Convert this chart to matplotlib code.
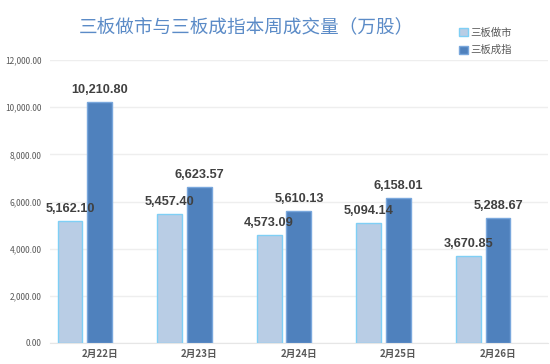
import numpy as np
import matplotlib.pyplot as plt
from matplotlib.ticker import FuncFormatter

plt.rcParams['font.family'] = ['Noto Sans CJK SC', 'DejaVu Sans']

dates = ['2月22日', '2月23日', '2月24日', '2月25日', '2月26日']
market_making = [5162.10, 5457.40, 4573.09, 5094.14, 3670.85]
index_stocks = [10210.80, 6623.57, 5610.13, 6158.01, 5288.67]

fig = plt.figure(figsize=(5.5, 3.64), dpi=100)
ax = fig.add_axes([0.091, 0.0577, 0.905, 0.777])

x = np.arange(len(dates))
w = 0.25
b1 = ax.bar(x - 0.3, market_making, w, color='#B9CDE5', edgecolor='#7FCFF5',
            linewidth=1, label='三板做市', zorder=3)
b2 = ax.bar(x, index_stocks, w, color='#4F81BD', edgecolor='#79A7DC',
            linewidth=1, label='三板成指', zorder=3)

for bars in (b1, b2):
    for r in bars:
        ax.annotate('{:,.2f}'.format(r.get_height()),
                    (r.get_x() + r.get_width() / 2, r.get_height()),
                    xytext=(0, 4.5), textcoords='offset points',
                    ha='center', va='bottom', fontsize=9.2,
                    fontweight='bold', color='#404040',
                    family='Liberation Sans', zorder=4)

ax.set_xlim(-0.5, 4.5)
ax.set_ylim(0, 12000)
ax.set_yticks(np.arange(0, 12001, 2000))
ax.yaxis.set_major_formatter(FuncFormatter(lambda v, p: '{:,.2f}'.format(v)))
ax.set_xticks(x)
ax.set_xticklabels(dates, fontsize=7, fontweight='bold', color='#595959')
ax.tick_params(axis='y', labelsize=6, labelcolor='#595959', length=0, pad=6)
ax.tick_params(axis='x', length=0, pad=4)
ax.grid(axis='y', color='#EEEEEE', linewidth=1, zorder=0)
for s in ['top', 'right', 'left']:
    ax.spines[s].set_visible(False)
ax.spines['bottom'].set_color('#E6E6E6')

fig.text(0.448, 0.925, '三板做市与三板成指本周成交量（万股）', ha='center', va='center',
         fontsize=13.4, color='#5B8BC7')

leg = fig.legend(handles=[b1, b2], loc='upper left', bbox_to_anchor=(0.818, 0.95),
                 frameon=False, fontsize=7.5, handlelength=0.8, handleheight=0.8,
                 handletextpad=0.3, labelspacing=0.7, labelcolor='#595959')

fig.savefig('out.png', dpi=100)
